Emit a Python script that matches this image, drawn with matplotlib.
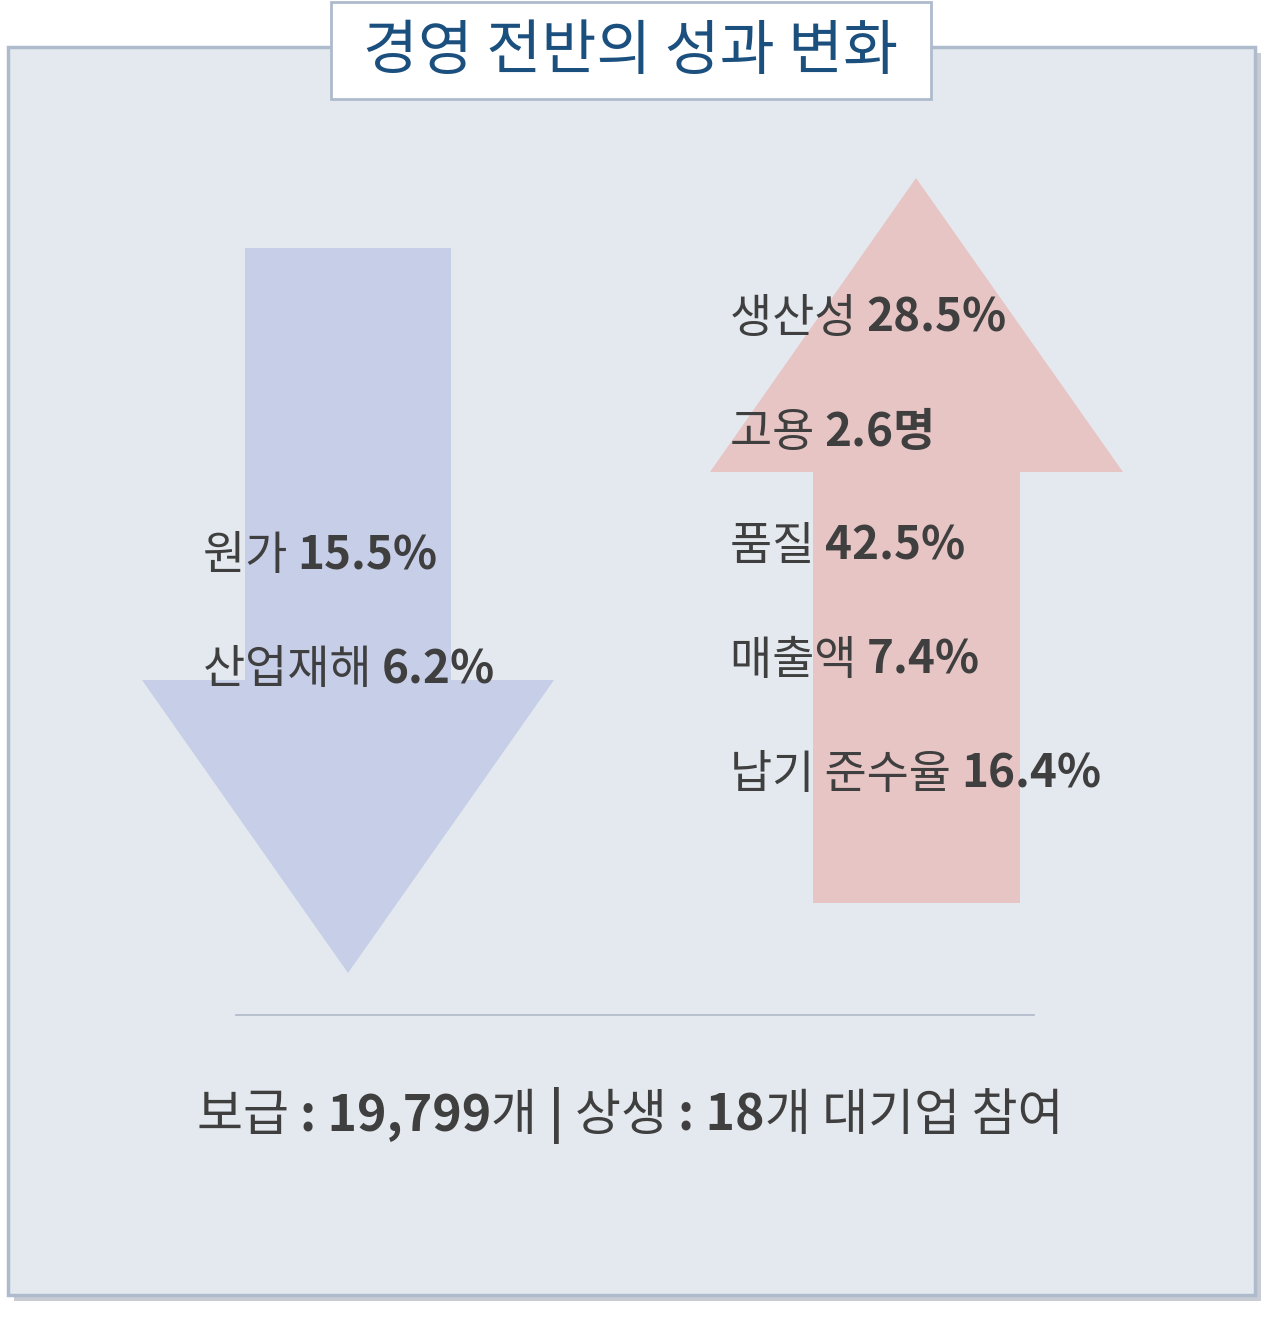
import matplotlib
matplotlib.use("Agg")
import matplotlib.pyplot as plt
from matplotlib.patches import Rectangle, Polygon

FONT = "Noto Sans CJK KR"
TITLE = "경영 전반의 성과 변화"
down_labels = ["원가", "산업재해"]
down_values = ["15.5%", "6.2%"]
up_labels = ["생산성", "고용", "품질", "매출액", "납기 준수율"]
up_values = ["28.5%", "2.6명", "42.5%", "7.4%", "16.4%"]
footer = [("보급 ", False), (": 19,799", True), ("개 ", False), ("| ", True),
          ("상생 ", False), (": 18", True), ("개 대기업 참여", False)]

W, H = 1280, 1319
fig = plt.figure(figsize=(W / 100, H / 100), dpi=100)
ax = fig.add_axes([0, 0, 1, 1])
ax.set_xlim(0, W); ax.set_ylim(H, 0); ax.axis("off")
r = fig.canvas.get_renderer()

# panel with shadow
ax.add_patch(Rectangle((14, 53), 1247, 1248, facecolor="#C9CDD3", edgecolor="none"))
ax.add_patch(Rectangle((8, 47), 1247, 1248, facecolor="#E4E9EF", edgecolor="#AEBBCC", lw=2.5))

# title box
ax.add_patch(Rectangle((331, 2), 600, 97, facecolor="white", edgecolor="#AEBBCC", lw=2))
ax.text(631, 52, TITLE, ha="center", va="center", fontsize=43, color="#1B4F7E",
        family=FONT, fontweight="medium")

# arrows
ax.add_patch(Polygon([(245, 248), (451, 248), (451, 680), (554, 680), (348, 973),
                      (142, 680), (245, 680)], closed=True, facecolor="#C7CFE8", edgecolor="none"))
ax.add_patch(Polygon([(916, 178), (1123, 472), (1020, 472), (1020, 903), (813, 903),
                      (813, 472), (710, 472)], closed=True, facecolor="#E8C5C5", edgecolor="none"))


def seg_text(x, y, parts, size=33, ha="left"):
    inv = ax.transData.inverted()
    texts = []
    cx = x
    for s, bold in parts:
        t = ax.text(cx, y, s, ha="left", va="center", fontsize=size, color="#3F3F3F",
                    family=FONT, fontweight="bold" if bold else "normal")
        bb = t.get_window_extent(r)
        x0 = inv.transform((bb.x0, 0))[0]
        x1 = inv.transform((bb.x1, 0))[0]
        cx += x1 - x0
        texts.append(t)
    if ha == "center":
        shift = (cx - x) / 2
        for t in texts:
            t.set_x(t.get_position()[0] - shift)


for i, (lab, val) in enumerate(zip(down_labels, down_values)):
    seg_text(203, 556 + i * 114, [(lab + " ", False), (val, True)])
for i, (lab, val) in enumerate(zip(up_labels, up_values)):
    seg_text(730, 319 + i * 114, [(lab + " ", False), (val, True)])

ax.plot([236, 1034], [1015, 1015], color="#B0B8C8", lw=1.2)
seg_text(630, 1116, footer, size=36, ha="center")

fig.savefig("out.png", dpi=100)
